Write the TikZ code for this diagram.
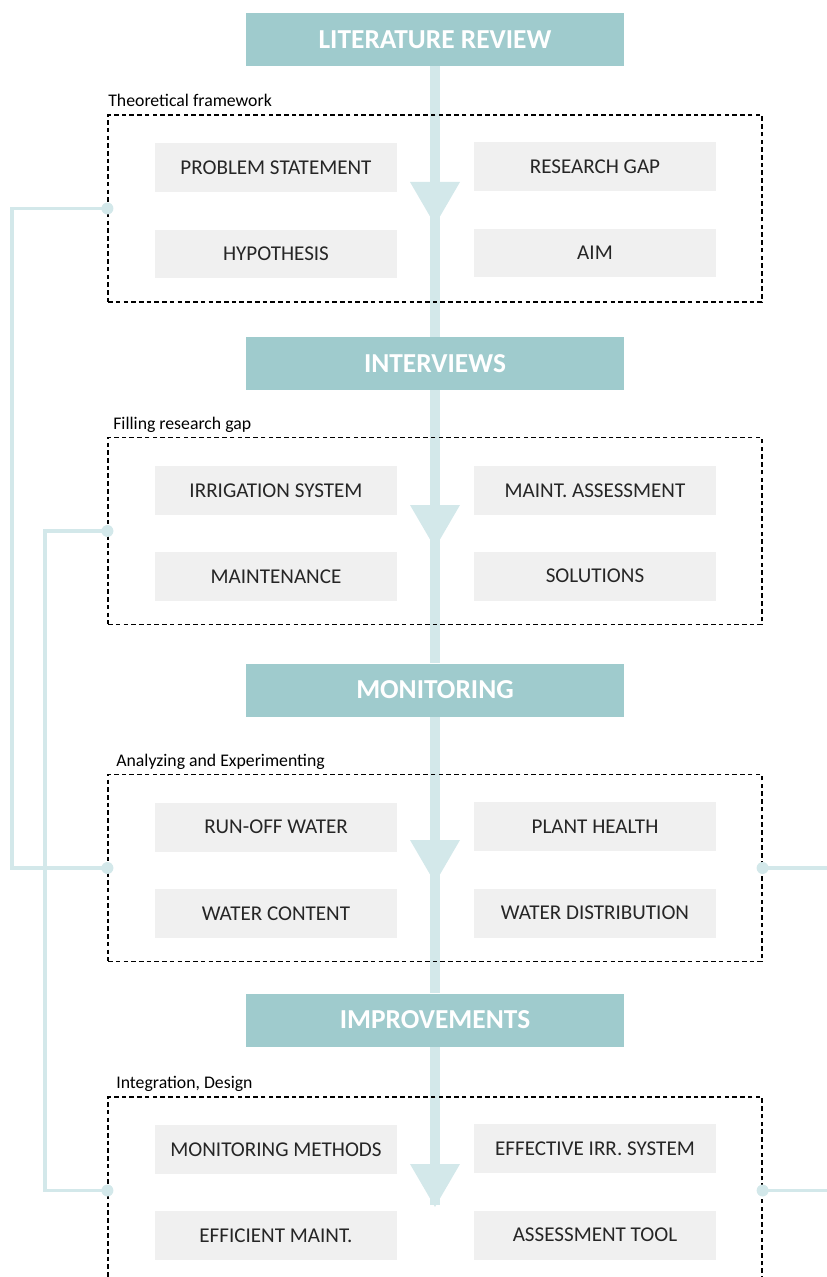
\documentclass[tikz,border=0pt]{standalone}
\usepackage{fontspec}
\setmainfont{Carlito}
\usetikzlibrary{calc, positioning}
\definecolor{headteal}{HTML}{9FCBCD}
\definecolor{paleteal}{HTML}{D3E8EA}
\definecolor{boxgray}{HTML}{F0F0F0}
\definecolor{txtgray}{HTML}{262626}

\begin{document}
\begin{tikzpicture}[x=0.02cm, y=-0.02cm,
  phase/.style={fill=headteal, text=white, font=\fontsize{15.6}{17}\selectfont\bfseries,
    minimum width=7.56cm, minimum height=1.06cm, inner sep=0pt},
  frame/.style={draw=black, dash pattern=on 2.6pt off 1.8pt, line width=0.75pt,
    minimum width=13.08cm, minimum height=3.74cm, inner sep=0pt},
  item/.style={fill=boxgray, text=txtgray, font=\fontsize{12}{13}\selectfont,
    minimum width=4.84cm, minimum height=0.98cm, inner sep=0pt},
  caption/.style={anchor=base west, text=black, font=\fontsize{10.1}{11}\selectfont, inner sep=0pt},
  flow/.style={draw=paleteal, line width=0.2cm},
  link/.style={draw=paleteal, line width=0.075cm},
  knob/.style={fill=paleteal, circle, minimum size=0.24cm, inner sep=0pt}]

  \useasboundingbox (0,0) rectangle (827,1277);

  % phases
  \node[phase] (lit)  at (435, 39.5)  {LITERATURE REVIEW};
  \node[phase] (intv) at (435, 363.5) {INTERVIEWS};
  \node[phase] (mon)  at (435, 690)   {MONITORING};
  \node[phase] (impr) at (435, 1020)  {IMPROVEMENTS};

  % main flow
  \coordinate (tip4) at (435, 1205);
  \draw[flow] (lit.south) to (intv.north);
  \draw[flow] (intv.south) to (mon.north);
  \draw[flow] (mon.south) to (impr.north);
  \draw[flow] (impr.south) to (tip4);
  \foreach \t in {182, 505, 840, 1164}
    \fill[paleteal] (410, \t) -- (460, \t) -- (435, \t+43) -- cycle;

  % frames
  \node[frame] (tf) at (435, 208.5) {};
  \node[frame] (fg) at (435, 531)   {};
  \node[frame] (ae) at (435, 868)   {};
  \node[frame] (id) at (435, 1190.5) {};

  \node[caption] (tf-cap) at (108, 107)  {Theoretical framework};
  \node[caption] (fg-cap) at (113, 429)  {Filling research gap};
  \node[caption] (ae-cap) at (116, 766)  {Analyzing and Experimenting};
  \node[caption] (id-cap) at (116, 1088) {Integration, Design};

  % items
  \node[item] (ps)  at (276, 167.5) {PROBLEM STATEMENT};
  \node[item] (rg)  at (595, 166.5) {RESEARCH GAP};
  \node[item] (hyp) at (276, 254)   {HYPOTHESIS};
  \node[item] (aim) at (595, 253)   {AIM};

  \node[item] (irs) at (276, 490.5) {IRRIGATION SYSTEM};
  \node[item] (mas) at (595, 490.5) {MAINT. ASSESSMENT};
  \node[item] (mnt) at (276, 576.5) {MAINTENANCE};
  \node[item] (sol) at (595, 576)   {SOLUTIONS};

  \node[item] (row) at (276, 827)   {RUN-OFF WATER};
  \node[item] (ph)  at (595, 826.5) {PLANT HEALTH};
  \node[item] (wc)  at (276, 913.5) {WATER CONTENT};
  \node[item] (wd)  at (595, 913)   {WATER DISTRIBUTION};

  \node[item] (mm)  at (276, 1149.5) {MONITORING METHODS};
  \node[item] (eis) at (595, 1148.5) {EFFECTIVE IRR. SYSTEM};
  \node[item] (em)  at (276, 1235.5) {EFFICIENT MAINT.};
  \node[item] (at)  at (595, 1235)   {ASSESSMENT TOOL};

  % feedback links
  \coordinate (rail-a) at (12, 0);
  \coordinate (rail-b) at (45, 0);
  \coordinate (edge)   at (827, 0);

  \draw[link] (tf.west) to (tf.west -| rail-a) to (ae.west -| rail-a) to (ae.west);
  \draw[link] (fg.west) to (fg.west -| rail-b) to (id.west -| rail-b) to (id.west);
  \draw[link] (ae.east) to (ae.east -| edge);
  \draw[link] (id.east) to (id.east -| edge);

  \node[knob] (tf-knob) at (tf.west) {};
  \node[knob] (fg-knob) at (fg.west) {};
  \node[knob] (ae-knob) at (ae.west) {};
  \node[knob] (id-knob) at (id.west) {};
  \node[knob] (ae-knob-r) at (ae.east) {};
  \node[knob] (id-knob-r) at (id.east) {};

\end{tikzpicture}
\end{document}
